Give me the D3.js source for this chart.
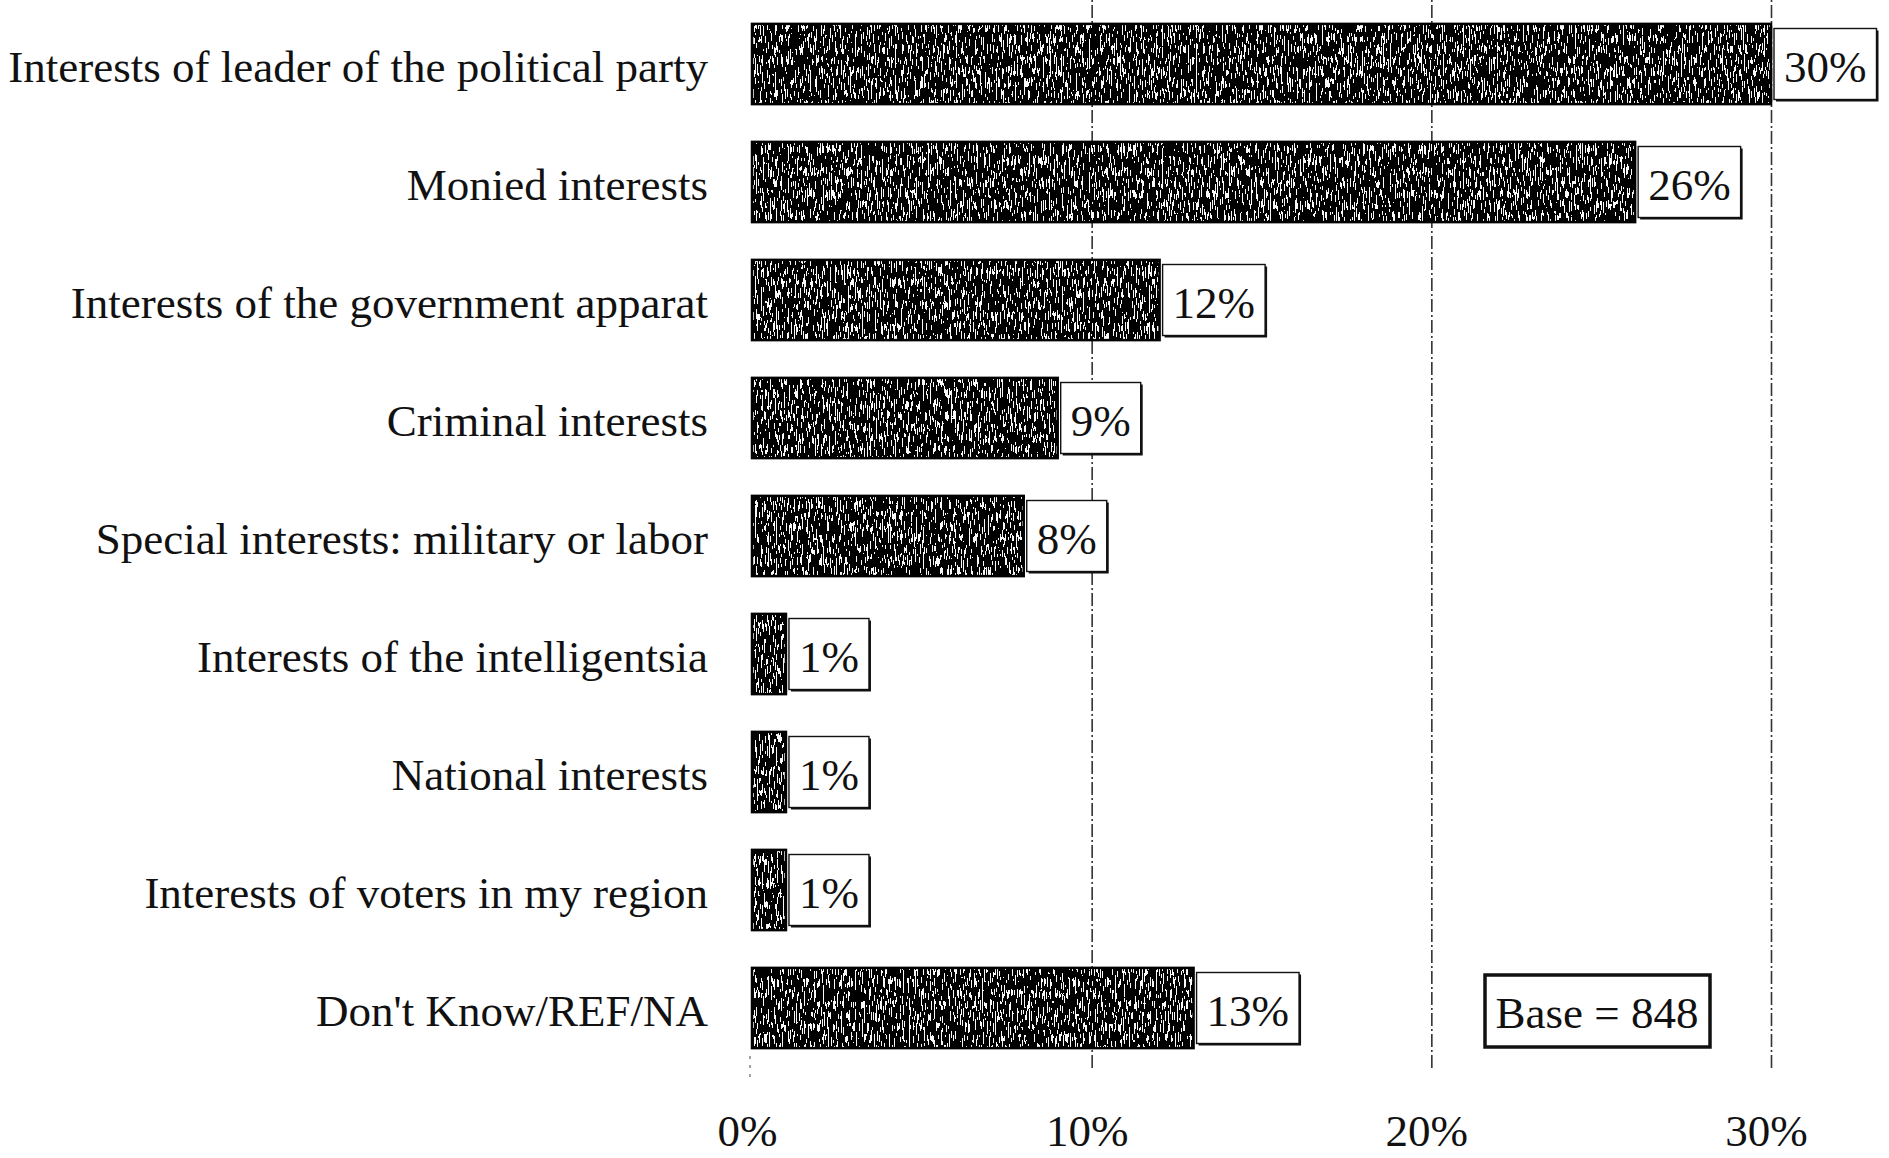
<!DOCTYPE html>
<html>
<head>
<meta charset="utf-8">
<script src="https://cdn.jsdelivr.net/npm/d3@7/dist/d3.min.js"></script>
<style>
  html, body { margin: 0; padding: 0; background: #fff; }
  svg { display: block; }
  text { font-family: "Liberation Serif", "Times New Roman", serif; fill: #111; }
</style>
</head>
<body>
<svg id="chart" width="1889" height="1158"></svg>
<script>
// Whose interests the deputies represent (share of respondents)
const categories = [
  "Interests of leader of the political party",
  "Monied interests",
  "Interests of the government apparat",
  "Criminal interests",
  "Special interests: military or labor",
  "Interests of the intelligentsia",
  "National interests",
  "Interests of voters in my region",
  "Don't Know/REF/NA"
];
const values = [30, 26, 12, 9, 8, 1, 1, 1, 13];
const tickValues = [0, 10, 20, 30];
const tickLabels = ["0%", "10%", "20%", "30%"];
const baseNote = "Base = 848";

const svg = d3.select("#chart");
const FONT = 45;

const x = d3.scaleLinear().domain([0, 30]).range([752, 1771]);
const y = d3.scaleBand().domain(categories).range([5, 1067])
  .paddingInner(0.32).paddingOuter(0.16);

// Grainy, vertically streaked texture for the bars
const defs = svg.append("defs");
const f = defs.append("filter").attr("id", "grain")
  .attr("x", 0).attr("y", 0).attr("width", 1).attr("height", 1);
f.append("feTurbulence").attr("type", "fractalNoise")
  .attr("baseFrequency", "0.85 0.09").attr("numOctaves", 2).attr("seed", 11)
  .attr("result", "noise");
f.append("feColorMatrix").attr("in", "noise").attr("type", "matrix")
  .attr("values", "1 0 0 0 0  1 0 0 0 0  1 0 0 0 0  0 0 0 0 1")
  .attr("result", "gray");
const ct = f.append("feComponentTransfer").attr("in", "gray").attr("result", "bw");
const table = "0 0 0 0 0 0 0.95 0.95 0.95 0.95";
ct.append("feFuncR").attr("type", "discrete").attr("tableValues", table);
ct.append("feFuncG").attr("type", "discrete").attr("tableValues", table);
ct.append("feFuncB").attr("type", "discrete").attr("tableValues", table);
f.append("feComposite").attr("in", "bw").attr("in2", "SourceGraphic").attr("operator", "in");

// Dash-dot gridlines at 10/20/30%
const grid = svg.append("g").attr("class", "grid")
  .attr("transform", `translate(0,1068)`)
  .call(d3.axisBottom(x).tickValues(tickValues.filter(v => v > 0))
    .tickSize(-1068).tickFormat(""));
grid.select(".domain").remove();
grid.selectAll(".tick line")
  .attr("stroke", "#333").attr("stroke-width", 1.6)
  .attr("stroke-dasharray", "13 3 2 3");

// faint stub of the zero line below the last bar
svg.append("line")
  .attr("x1", x(0) - 2).attr("x2", x(0) - 2)
  .attr("y1", y(categories[8]) + y.bandwidth() + 8).attr("y2", 1080)
  .attr("stroke", "#666").attr("stroke-width", 1.2)
  .attr("stroke-dasharray", "3 6");

// Bars
const rows = categories.map((c, i) => ({ c, v: values[i] }));
const bars = svg.append("g").attr("class", "bars");
bars.selectAll("rect.fill").data(rows).join("rect")
  .attr("class", "fill")
  .attr("x", x(0)).attr("y", d => y(d.c))
  .attr("width", d => x(d.v) - x(0)).attr("height", y.bandwidth())
  .attr("fill", "#000").attr("filter", "url(#grain)");
bars.selectAll("rect.edge").data(rows).join("rect")
  .attr("class", "edge")
  .attr("x", x(0)).attr("y", d => y(d.c))
  .attr("width", d => x(d.v) - x(0)).attr("height", y.bandwidth())
  .attr("fill", "none").attr("stroke", "#000").attr("stroke-width", 2.5);

// Category labels
const yAxis = svg.append("g").attr("class", "y-axis")
  .attr("transform", `translate(708,0)`)
  .call(d3.axisLeft(y).tickSize(0).tickPadding(0));
yAxis.select(".domain").remove();
yAxis.selectAll(".tick text")
  .style("font-family", '"Liberation Serif", "Times New Roman", serif')
  .style("font-size", FONT + "px").attr("fill", "#111")
  .attr("x", 0).attr("dy", "0.40em");

// Value labels in boxes
const lab = svg.append("g").attr("class", "value-labels");
const boxH = 71;
rows.forEach(d => {
  const cy = y(d.c) + y.bandwidth() / 2;
  const g = lab.append("g");
  const t = g.append("text")
    .attr("x", x(d.v) + 13).attr("y", cy + 18)
    .style("font-size", FONT + "px")
    .text(d.v + "%");
  const tw = t.node().getComputedTextLength();
  const bx = x(d.v) + 3, by = cy - boxH / 2, bw = tw + 20;
  g.insert("rect", "text")
    .attr("x", bx + 2).attr("y", by + 2).attr("width", bw).attr("height", boxH)
    .attr("fill", "#111");
  g.insert("rect", "text")
    .attr("x", bx).attr("y", by).attr("width", bw).attr("height", boxH)
    .attr("fill", "#fff").attr("stroke", "#111").attr("stroke-width", 1.4);
});

// Bottom tick labels
const xAxis = svg.append("g").attr("class", "x-axis")
  .attr("transform", `translate(-5,1146)`)
  .call(d3.axisBottom(x).tickValues(tickValues)
    .tickFormat((d, i) => tickLabels[i]).tickSize(0).tickPadding(0));
xAxis.select(".domain").remove();
xAxis.selectAll(".tick text")
  .style("font-family", '"Liberation Serif", "Times New Roman", serif')
  .style("font-size", FONT + "px").attr("fill", "#111")
  .attr("y", 0).attr("dy", 0);

// Base note
const note = svg.append("g").attr("class", "base-note");
note.append("rect")
  .attr("x", 1485).attr("y", 975).attr("width", 225).attr("height", 72)
  .attr("fill", "#fff").attr("stroke", "#111").attr("stroke-width", 3.5);
note.append("text")
  .attr("x", 1597).attr("y", 1028).attr("text-anchor", "middle")
  .style("font-size", FONT + "px")
  .text(baseNote);
</script>
</body>
</html>
